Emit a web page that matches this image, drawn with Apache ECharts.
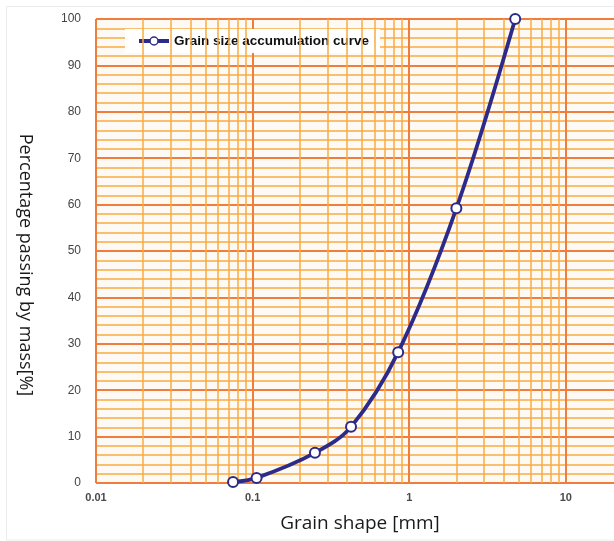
<!DOCTYPE html>
<html>
<head>
<meta charset="utf-8">
<style>
  html, body { margin: 0; padding: 0; background: #ffffff; }
  #chart { width: 614px; height: 541px; }
</style>
<script src="https://cdn.jsdelivr.net/npm/echarts@6/dist/echarts.min.js"></script>
</head>
<body>
<div id="chart"></div>
<script>
// Sieve analysis: sieve opening (mm) and cumulative percentage passing
const sieveSizes = [0.075, 0.106, 0.25, 0.425, 0.85, 2, 4.75];
const passing = [0.2, 1.1, 6.5, 12.1, 28.2, 59.2, 100];
const seriesName = 'Grain size accumulation curve';

// Axis labels
const xTickLabels = ['0.01', '0.1', '1', '10'];
const xTitle = 'Grain shape [mm]';
const yTitle = 'Percentage passing by mass[%]';

// Intermediate log-paper lines (2..9 within each decade)
const decades = [0.01, 0.1, 1];
const decadeSteps = [2, 3, 4, 5, 6, 7, 8, 9];
const minorX = [];
decades.forEach(d => decadeSteps.forEach(s => minorX.push(+(d * s).toPrecision(3))));

const majorColor = '#ef7d3c';
const minorColor = '#f8ab42';
const navy = '#2d2b8a';

const chart = echarts.init(document.getElementById('chart'));

chart.setOption({
  animation: false,
  backgroundColor: '#ffffff',
  grid: {
    left: 96, right: 0, top: 19, bottom: 58,
    show: true, backgroundColor: '#fdfaf5', borderWidth: 0
  },
  legend: {
    left: 125, top: 29,
    backgroundColor: '#ffffff',
    padding: [5, 11, 5, 12],
    itemWidth: 30, itemHeight: 10, itemGap: 10,
    lineStyle: { width: 4, color: navy },
    itemStyle: { color: '#ffffff', borderColor: navy, borderWidth: 1.5 },
    textStyle: { fontFamily: 'Liberation Sans', fontWeight: 'bold', fontSize: 13.5, color: '#111' },
    data: [seriesName]
  },
  xAxis: {
    type: 'log', logBase: 10,
    min: 0.01, max: 20.3,
    axisLine: { show: false },
    axisTick: { show: false },
    axisLabel: {
      margin: 9,
      showMaxLabel: false,
      fontFamily: 'Liberation Sans', fontWeight: 'bold', fontSize: 11, color: '#4a4a4a',
      formatter: function (v) {
        const e = Math.log10(v);
        const r = Math.round(e);
        if (Math.abs(e - r) > 1e-6) return '';
        return xTickLabels[r + 2] || '';
      }
    },
    splitLine: { show: true, showMaxLine: false, lineStyle: { color: majorColor, width: 2 } }
  },
  yAxis: {
    type: 'value', min: 0, max: 100, interval: 10,
    axisLine: { show: false },
    axisTick: { show: false },
    axisLabel: {
      margin: 15,
      fontFamily: "'Liberation Sans Narrow', 'Liberation Sans'", fontSize: 12, color: '#444'
    },
    splitLine: { show: true, lineStyle: { color: majorColor, width: 1.8 } },
    minorTick: { show: false, splitNumber: 5 },
    minorSplitLine: { show: true, lineStyle: { color: minorColor, width: 1.5 } }
  },
  graphic: [
    {
      type: 'rect', silent: true, z: -10,
      shape: { x: 6.5, y: 6.5, width: 620, height: 533.5 },
      style: { fill: 'none', stroke: '#ececec', lineWidth: 1 }
    },
    {
      type: 'text', x: 25, y: 265, rotation: -Math.PI / 2,
      style: {
        text: yTitle, fontFamily: 'Open Sans', fontSize: 18, fill: '#1a1a1a',
        textAlign: 'center', textVerticalAlign: 'middle'
      }
    },
    {
      type: 'text', x: 360, y: 524,
      style: {
        text: xTitle, fontFamily: 'Open Sans', fontSize: 19, fill: '#1a1a1a',
        textAlign: 'center', textVerticalAlign: 'middle'
      }
    }
  ],
  series: [
    {
      // log-paper intermediate grid lines
      type: 'line', data: [], silent: true, z: 1,
      markLine: {
        silent: true, symbol: ['none', 'none'], label: { show: false },
        lineStyle: { color: minorColor, width: 1.5, type: 'solid' },
        animation: false,
        data: minorX.map(v => ({ xAxis: v }))
      }
    },
    {
      name: seriesName,
      type: 'line', z: 5,
      smooth: 0.35,
      data: sieveSizes.map((s, i) => [s, passing[i]]),
      symbol: 'circle', symbolSize: 10,
      itemStyle: { color: '#ffffff', borderColor: navy, borderWidth: 2 },
      lineStyle: { color: navy, width: 3.8 }
    }
  ]
});
</script>
</body>
</html>
